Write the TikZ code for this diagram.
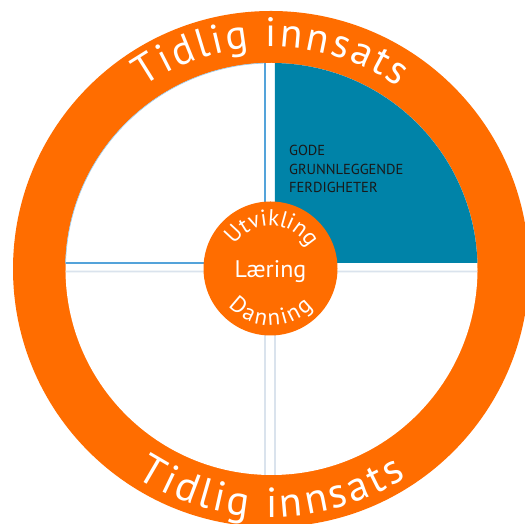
\documentclass[tikz,border=0pt]{standalone}
\usepackage{fontspec}
\setmainfont{PT Sans}
\usetikzlibrary{decorations.text}
\definecolor{ringorange}{RGB}{255,109,0}
\definecolor{quadteal}{RGB}{0,131,168}
\definecolor{edgeblue}{RGB}{84,163,218}
\definecolor{edgelight}{RGB}{218,227,237}
\begin{document}
\begin{tikzpicture}[x=1pt,y=1pt,
  arctext/.style={decorate, decoration={text along path, text color=white, text align={fit to path}, text={#1}}},
  quadedge/.style={line width=1.6pt},
]
\useasboundingbox (0,0) rectangle (525,524);
\clip (0,0) rectangle (525,524);
\fill[white] (0,0) rectangle (525,524);
\coordinate (ringc) at (271,255);
\coordinate (discc) at (271.5,255);
\coordinate (hubc) at (270.5,255.5);
% ring and disc
\fill[ringorange] (ringc) circle[radius=258];
\fill[white] (discc) circle[radius=206];
% top-left quadrant
\fill[white] (265,261) -- ([shift={(178.33:206)}]discc) arc[start angle=178.33, end angle=91.81, radius=206] -- cycle;
\draw[edgeblue!60, line width=0.6pt] ([shift={(178.33:206)}]discc) arc[start angle=178.33, end angle=91.81, radius=206];
\draw[edgeblue, quadedge] ([shift={(91.81:206)}]discc) -- (265,261) -- ([shift={(178.33:206)}]discc);
% top-right quadrant (teal)
\fill[quadteal] (275,261) -- ([shift={(1.67:206)}]discc) arc[start angle=1.67, end angle=89.03, radius=206] -- cycle;
% bottom-left quadrant
\draw[edgelight, quadedge] ([shift={(268.19:206)}]discc) -- (265,252.5) -- ([shift={(180.70:206)}]discc);
% bottom-right quadrant
\draw[edgelight, quadedge] ([shift={(270.97:206)}]discc) -- (275,252.5) -- ([shift={(-0.70:206)}]discc);
% quadrant text
\node[anchor=north west, inner sep=0pt, align=left, text=black!90,
  font=\fontsize{14.5}{18.5}\selectfont] (skills) at (289,379)
  {GODE\\GRUNNLEGGENDE\\FERDIGHETER};
% hub
\node[circle, fill=ringorange, minimum size=134pt, inner sep=0pt] (hub) at (hubc) {};
\node[anchor=base, inner sep=0pt, text=white, font=\fontsize{24}{24}\selectfont] (laering) at (270.5,246) {Læring};
\path[arctext={|\fontsize{23}{23}\selectfont|Utvikling}]
  ([shift={(147:43)}]hubc) arc[start angle=147, end angle=33, radius=43];
\path[arctext={|\fontsize{23}{23}\selectfont|Danning}]
  ([shift={(222:57)}]hubc) arc[start angle=222, end angle=318, radius=57];
% ring texts
\path[arctext={|\fontsize{41}{41}\selectfont|Tidlig innsats}]
  ([shift={(125:222)}]ringc) arc[start angle=125, end angle=55, radius=222];
\path[arctext={|\fontsize{42}{42}\selectfont|Tidlig innsats}]
  ([shift={(237:248)}]ringc) arc[start angle=237, end angle=303, radius=248];
\end{tikzpicture}
\end{document}
